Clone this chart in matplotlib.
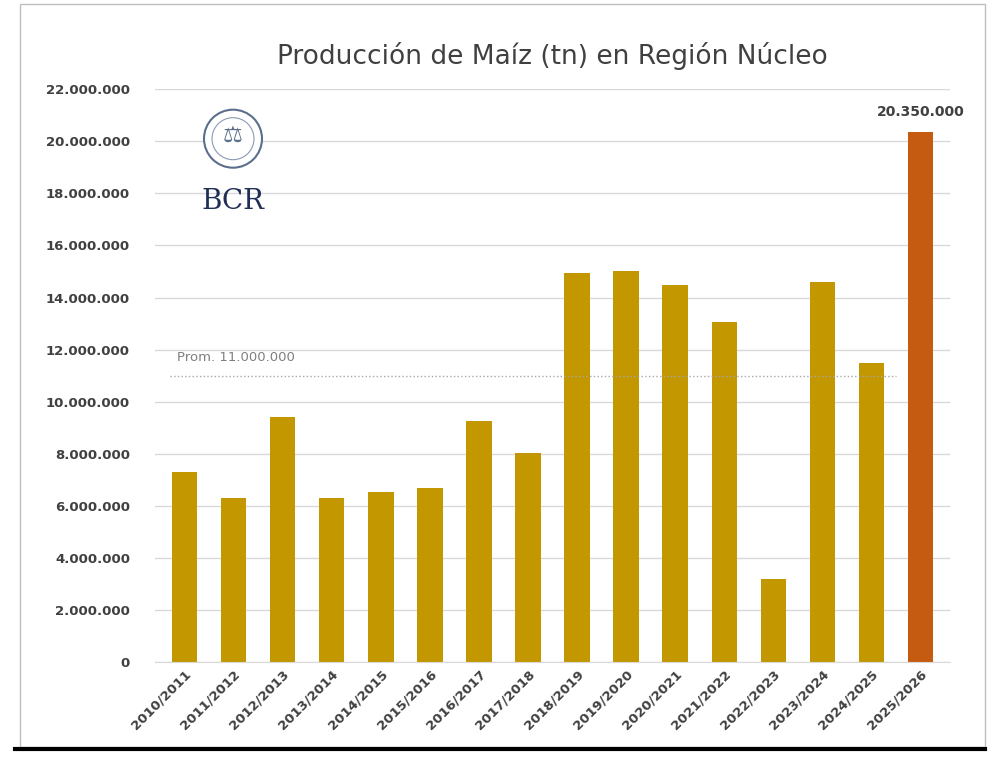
import matplotlib.pyplot as plt
from matplotlib.patches import Ellipse, Rectangle
from matplotlib.ticker import FuncFormatter
import numpy as np

campanias = ['2010/2011', '2011/2012', '2012/2013', '2013/2014', '2014/2015', '2015/2016',
             '2016/2017', '2017/2018', '2018/2019', '2019/2020', '2020/2021', '2021/2022',
             '2022/2023', '2023/2024', '2024/2025', '2025/2026']
produccion = [7300000, 6300000, 9400000, 6300000, 6550000, 6700000, 9250000, 8050000,
              14950000, 15000000, 14500000, 13050000, 3200000, 14600000, 11500000, 20350000]
promedio = 11000000

fig = plt.figure(figsize=(10, 7.62), dpi=100)
ax = fig.add_axes([0.155, 0.131, 0.795, 0.752])

x = np.arange(len(campanias))
colores = ['#C29700'] * (len(campanias) - 1) + ['#C55A11']
ax.bar(x, produccion, width=0.52, color=colores, zorder=2)

# linea de promedio
ax.plot([-0.3, 14.5], [promedio, promedio], color='#A6A6A6', linestyle=':', linewidth=1, zorder=3)
ax.text(-0.15, promedio + 450000, 'Prom. 11.000.000', color='#7F7F7F', fontsize=9.5, va='bottom')

ax.text(15, produccion[-1] + 500000, '20.350.000', ha='center', va='bottom',
        fontsize=10, fontweight='bold', color='#404040')

ax.set_ylim(0, 22000000)
ax.set_yticks(np.arange(0, 22000001, 2000000))
ax.yaxis.set_major_formatter(FuncFormatter(lambda v, p: f'{int(v):,}'.replace(',', '.')))
ax.set_xlim(-0.6, 15.6)
ax.set_xticks(x)
ax.set_xticklabels(campanias, rotation=45, ha='right', rotation_mode='anchor',
                   fontsize=9.5, fontweight='bold', color='#404040')
for lbl in ax.get_yticklabels():
    lbl.set_fontweight('bold')
    lbl.set_color('#404040')
    lbl.set_fontsize(9.5)
ax.tick_params(axis='y', length=0, pad=18)
ax.tick_params(axis='x', length=0, pad=4)
ax.grid(axis='y', color='#D9D9D9', linewidth=1, zorder=0)
for s in ['top', 'right', 'left']:
    ax.spines[s].set_visible(False)
ax.spines['bottom'].set_color('#D9D9D9')

ax.set_title('Producción de Maíz (tn) en Región Núcleo', fontsize=19, color='#404040', pad=18)

# logo BCR
ratio = 1000 / 762
fig.add_artist(Ellipse((0.233, 0.818), 0.058, 0.058 * ratio, transform=fig.transFigure,
                       facecolor='white', edgecolor='#5B6E8C', linewidth=1.5, zorder=5))
fig.add_artist(Ellipse((0.233, 0.818), 0.042, 0.042 * ratio, transform=fig.transFigure,
                       facecolor='none', edgecolor='#8A9AB5', linewidth=0.8, zorder=5))
fig.text(0.233, 0.822, '⚖', fontsize=16, color='#5B6E8C', ha='center', va='center', zorder=6)
fig.text(0.233, 0.735, 'BCR', family='DejaVu Serif', fontsize=20, color='#1F2F55',
         ha='center', va='center')

# marco
fig.add_artist(Rectangle((0.02, 0.02), 0.965, 0.975, transform=fig.transFigure,
                         fill=False, edgecolor='#BFBFBF', linewidth=1))
fig.add_artist(plt.Line2D([0.015, 0.985], [0.017, 0.017], transform=fig.transFigure,
                          color='black', linewidth=3))

fig.savefig('out.png', dpi=100, facecolor='white')
